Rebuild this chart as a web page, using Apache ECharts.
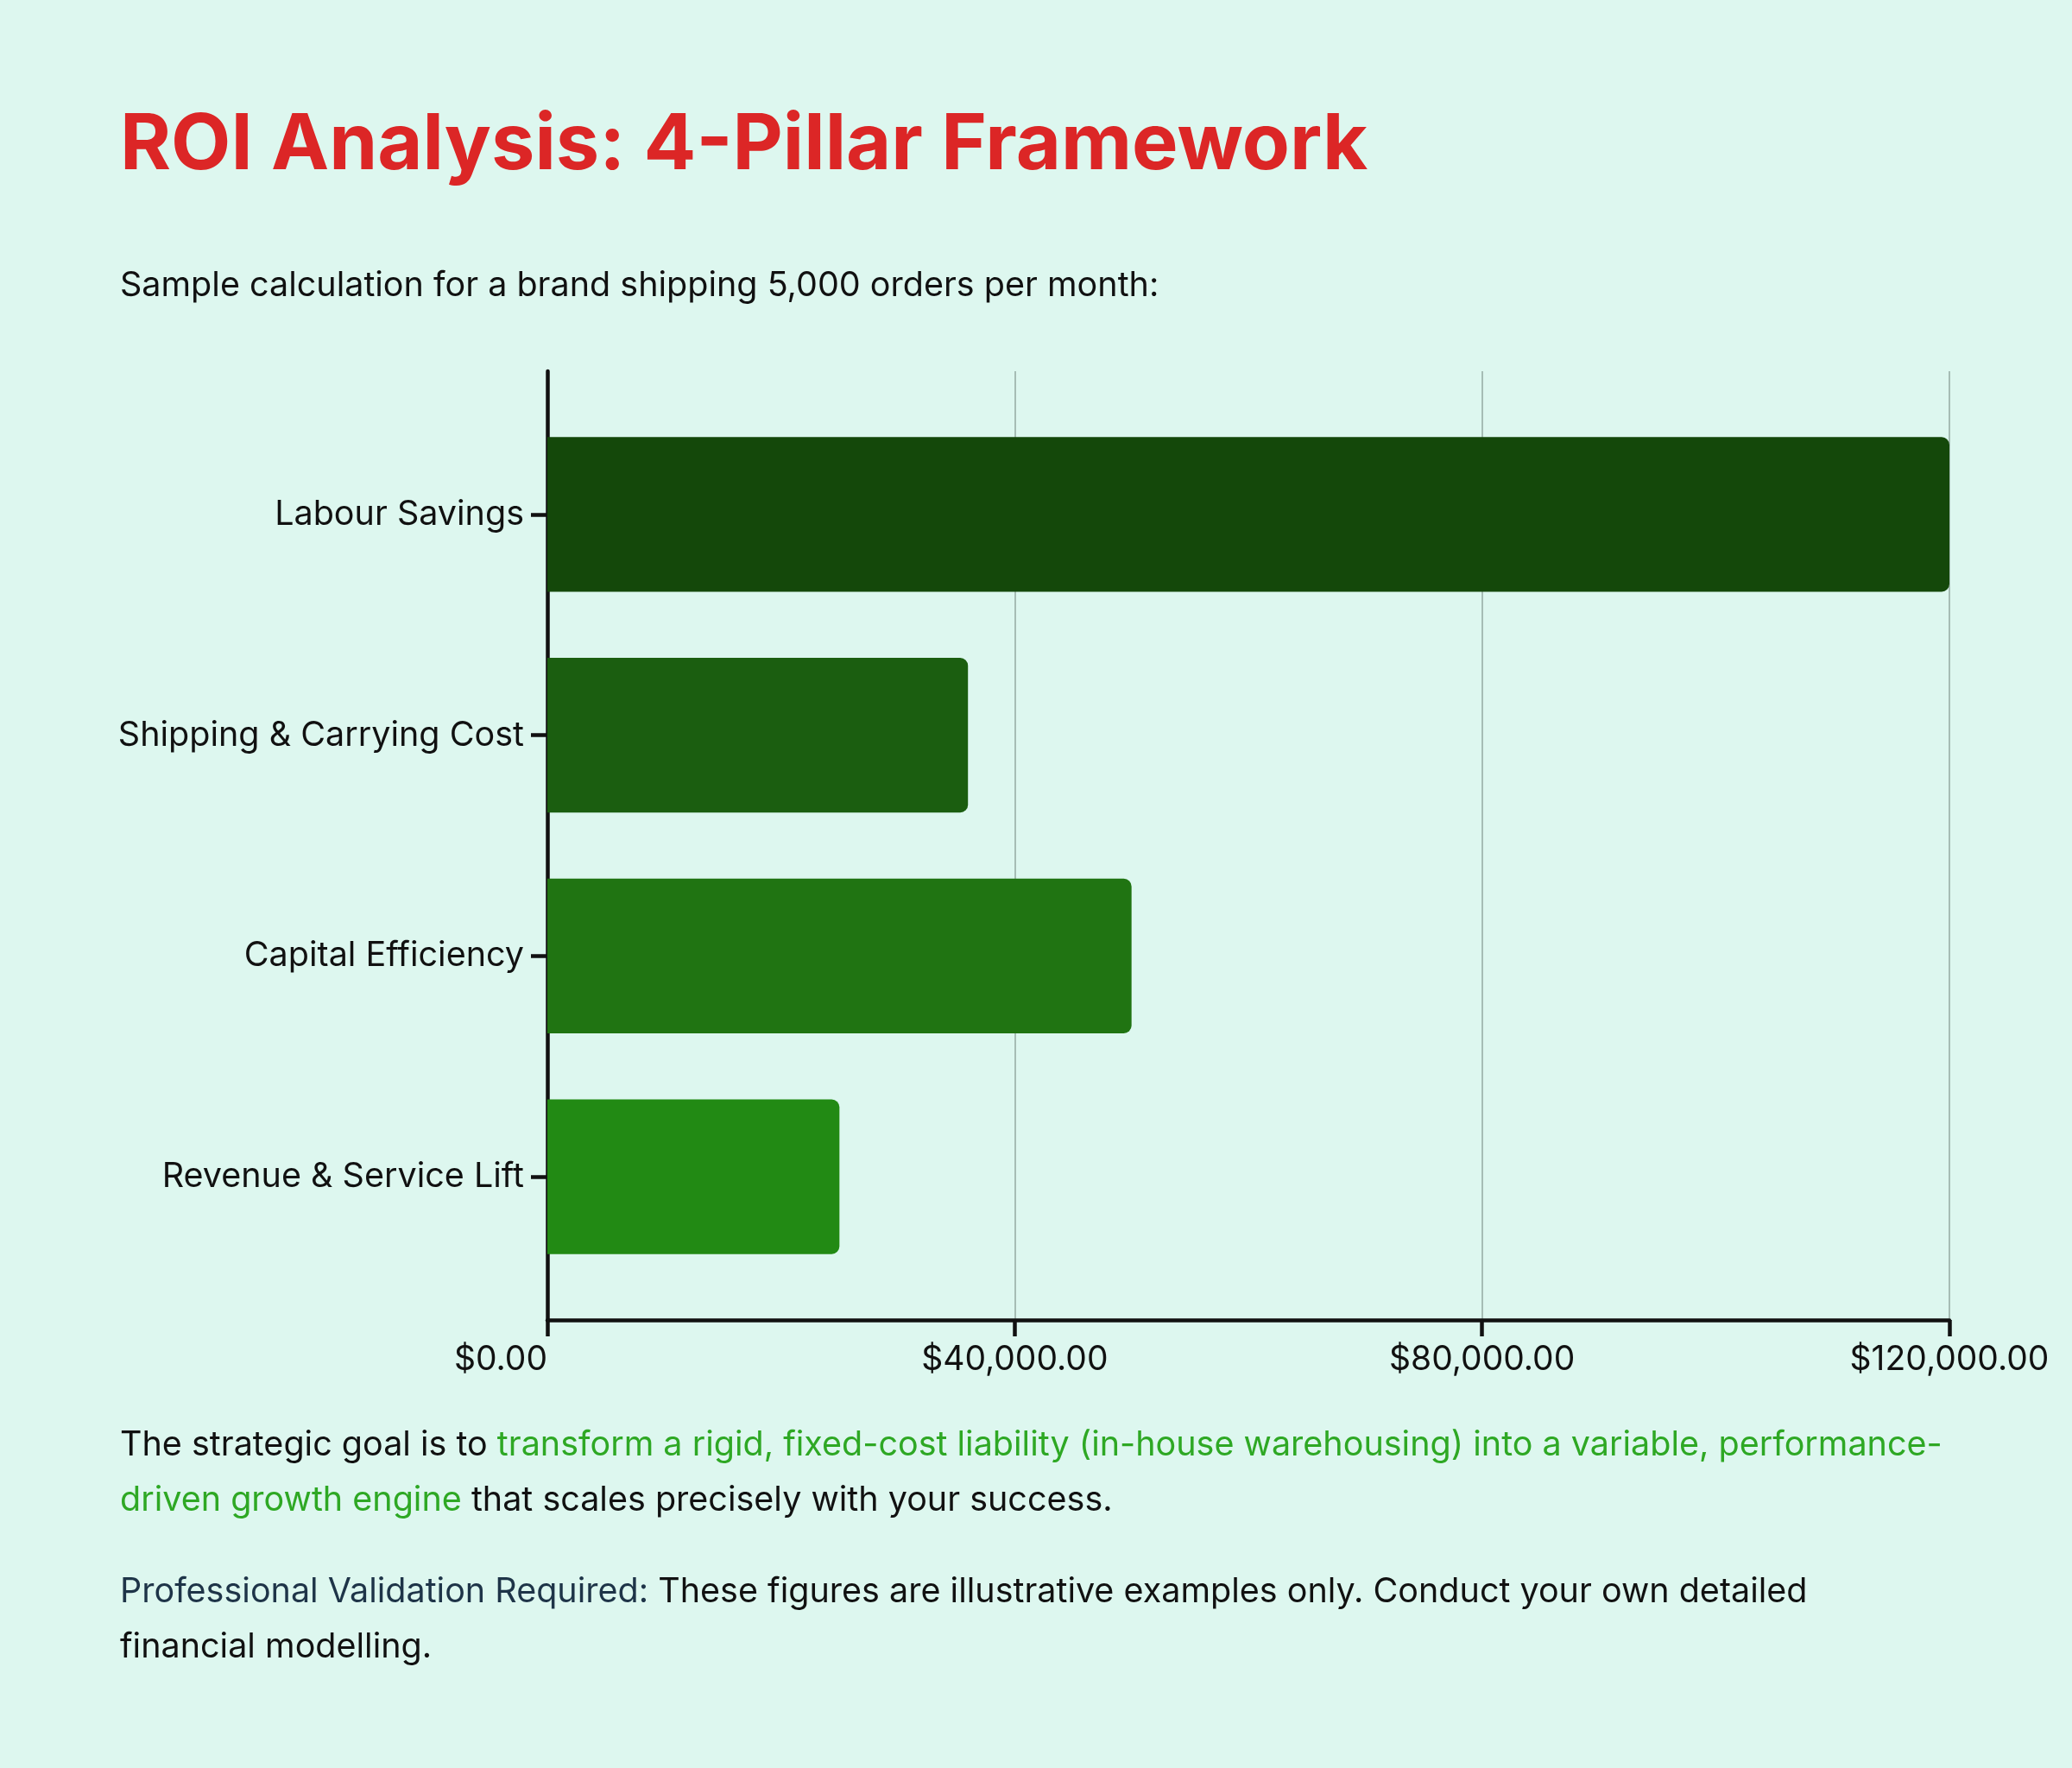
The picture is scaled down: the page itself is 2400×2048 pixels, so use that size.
<!DOCTYPE html>
<html>
<head>
<meta charset="utf-8">
<style>
  html, body { margin: 0; padding: 0; background: #ddf7ef; }
  #chart { width: 2400px; height: 2048px; }
</style>
<script src="https://cdn.jsdelivr.net/npm/echarts@6/dist/echarts.min.js"></script>
</head>
<body>
<div id="chart"></div>
<script>
// ---- data ----
const categories = ['Labour Savings', 'Shipping & Carrying Cost', 'Capital Efficiency', 'Revenue & Service Lift'];
const values = [120000, 36000, 50000, 25000];
const axisMin = 0;
const axisMax = 120000;
const axisInterval = 40000;
const titleText = 'ROI Analysis: 4-Pillar Framework';
const subtitleText = 'Sample calculation for a brand shipping 5,000 orders per month:';

// ---- styles ----
const barColors = ['#14480a', '#1b5e10', '#207412', '#228a14'];
const FONT = 'Inter, "Noto Sans", sans-serif';
const INK = '#111111';
const BODY = '39.5px ' + FONT;

const chart = echarts.init(document.getElementById('chart'), null, { renderer: 'canvas' });

function money(v) {
  return '$' + Number(v).toLocaleString('en-US', { minimumFractionDigits: 2, maximumFractionDigits: 2 });
}

const option = {
  backgroundColor: '#ddf7ef',
  animation: false,
  textStyle: { fontFamily: FONT },
  grid: [
    { left: 634, right: 142, top: 468, bottom: 557, containLabel: false },
    { left: 634, right: 142, top: 430, bottom: 519, containLabel: false }
  ],
  xAxis: [
    { type: 'value', gridIndex: 0, min: axisMin, max: axisMax, interval: axisInterval, show: false },
    {
      type: 'value', gridIndex: 1, min: axisMin, max: axisMax, interval: axisInterval,
      axisLine: { show: true, lineStyle: { color: INK, width: 4.5 } },
      axisTick: { show: true, length: 19, lineStyle: { color: INK, width: 4.5 } },
      axisLabel: {
        show: true, margin: 27, color: INK, fontSize: 39, fontFamily: FONT, formatter: money,
        alignMinLabel: 'right'
      },
      splitLine: { show: true, lineStyle: { color: '#a6bdb5', width: 2 } }
    }
  ],
  yAxis: [
    {
      type: 'category', gridIndex: 0, data: categories, inverse: true,
      axisLine: { show: false },
      axisTick: { show: true, alignWithLabel: true, length: 19, lineStyle: { color: INK, width: 4.5 } },
      axisLabel: { show: true, margin: 27, color: INK, fontSize: 39.5, fontFamily: FONT },
      splitLine: { show: false }
    },
    {
      type: 'value', gridIndex: 1, min: 0, max: 1,
      axisLine: { show: true, lineStyle: { color: INK, width: 4.5 } },
      axisTick: { show: false }, axisLabel: { show: false }, splitLine: { show: false }
    }
  ],
  series: [
    {
      type: 'bar', xAxisIndex: 0, yAxisIndex: 0,
      barCategoryGap: '30%',
      data: values.map((v, i) => ({
        value: v,
        itemStyle: { color: barColors[i], borderRadius: [0, 9, 9, 0] }
      }))
    }
  ],
  graphic: [
    {
      type: 'text', x: 139, y: 169,
      style: { text: titleText, fill: '#dc2626', font: 'bold 90px ' + FONT, verticalAlign: 'middle' }
    },
    {
      type: 'text', x: 139, y: 331,
      style: { text: subtitleText, fill: INK, font: BODY, verticalAlign: 'middle' }
    },
    {
      type: 'text', x: 139, y: 1674,
      style: {
        text: '{a|The strategic goal is to }{g|transform a rigid, fixed-cost liability (in-house warehousing) into a variable, performance-}',
        verticalAlign: 'middle',
        rich: {
          a: { fill: INK, font: BODY },
          g: { fill: '#2ea824', font: BODY }
        }
      }
    },
    {
      type: 'text', x: 139, y: 1738,
      style: {
        text: '{g|driven growth engine}{a| that scales precisely with your success.}',
        verticalAlign: 'middle',
        rich: {
          a: { fill: INK, font: BODY },
          g: { fill: '#2ea824', font: BODY }
        }
      }
    },
    {
      type: 'text', x: 139, y: 1844,
      style: {
        text: '{b|Professional Validation Required:}{a| These figures are illustrative examples only. Conduct your own detailed}',
        verticalAlign: 'middle',
        rich: {
          a: { fill: INK, font: BODY },
          b: { fill: '#1e3448', font: BODY }
        }
      }
    },
    {
      type: 'text', x: 139, y: 1908,
      style: { text: 'financial modelling.', fill: INK, font: BODY, verticalAlign: 'middle' }
    }
  ]
};

chart.setOption(option);
</script>
</body>
</html>
